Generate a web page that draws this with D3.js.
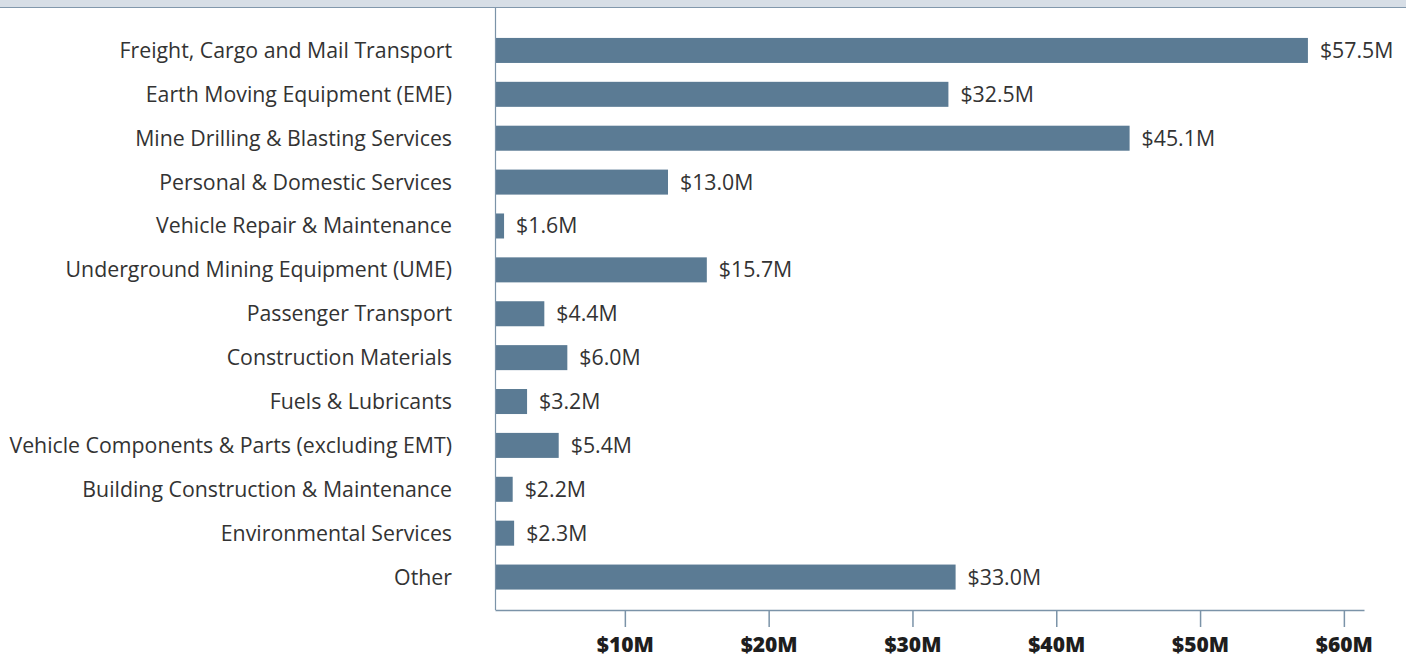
<!DOCTYPE html>
<html>
<head>
<meta charset="utf-8">
<script src="https://cdn.jsdelivr.net/npm/d3@7"></script>
<style>
  body { margin: 0; background: #fff; }
  svg { display: block; font-family: 'Open Sans', sans-serif; }
</style>
</head>
<body>
<div id="chart"></div>
<script>
// categories, top to bottom
const categories = [
  'Freight, Cargo and Mail Transport',
  'Earth Moving Equipment (EME)',
  'Mine Drilling & Blasting Services',
  'Personal & Domestic Services',
  'Vehicle Repair & Maintenance',
  'Underground Mining Equipment (UME)',
  'Passenger Transport',
  'Construction Materials',
  'Fuels & Lubricants',
  'Vehicle Components & Parts (excluding EMT)',
  'Building Construction & Maintenance',
  'Environmental Services',
  'Other'
]
// spend in $M
const values = [57.5, 32.5, 45.1, 13.0, 1.6, 15.7, 4.4, 6.0, 3.2, 5.4, 2.2, 2.3, 33.0]
const tickValues = [10, 20, 30, 40, 50, 60]

const width = 1406
const height = 659
const margins = {top: 8, left: 495, right: 42, bottom: 49}

const data = categories.map((c, i) => ({cat: c, value: values[i]}))

const svg = d3.select('#chart')
  .append('svg')
    .attr('width', width)
    .attr('height', height)

// header strip
svg.append('rect')
  .attr('x', 0).attr('y', 0)
  .attr('width', width).attr('height', 7)
  .attr('fill', '#d7dee6')
svg.append('line')
  .attr('x1', 0).attr('x2', width)
  .attr('y1', 7.5).attr('y2', 7.5)
  .attr('stroke', '#8298ac')
  .attr('stroke-width', 1)

const x = d3.scaleLinear()
  .domain([0.97, 61.4])
  .range([margins.left, width - margins.right])

const y = d3.scaleBand()
  .domain(categories)
  .range([28.5, 599])
  .paddingInner(0.43)
  .paddingOuter(0.215)

const axisY = height - margins.bottom
const axisColor = '#7b93a8'

// bars
svg.append('g')
    .classed('bars', true)
  .selectAll('rect')
  .data(data)
  .enter()
  .append('rect')
    .attr('x', x.range()[0])
    .attr('y', d => y(d.cat))
    .attr('width', d => x(d.value) - x.range()[0])
    .attr('height', y.bandwidth())
    .attr('fill', '#5b7b94')

// value labels
svg.append('g')
    .classed('values', true)
  .selectAll('text')
  .data(data)
  .enter()
  .append('text')
    .attr('x', d => x(d.value) + 12)
    .attr('y', d => y(d.cat) + y.bandwidth() / 2)
    .attr('dy', '0.35em')
    .attr('font-size', 21.3)
    .attr('fill', '#333')
    .text(d => '$' + d.value.toFixed(1) + 'M')

// category labels
svg.append('g')
    .classed('cats', true)
  .selectAll('text')
  .data(data)
  .enter()
  .append('text')
    .attr('x', 452)
    .attr('y', d => y(d.cat) + y.bandwidth() / 2)
    .attr('dy', '0.35em')
    .attr('text-anchor', 'end')
    .attr('font-size', 21.3)
    .attr('fill', '#333')
    .text(d => d.cat)

// left axis line
svg.append('line')
  .attr('x1', margins.left + 0.5).attr('x2', margins.left + 0.5)
  .attr('y1', margins.top).attr('y2', axisY)
  .attr('stroke', axisColor)
  .attr('stroke-width', 1.2)

// x axis
const xAxisG = svg.append('g')
  .classed('x-axis', true)
  .attr('transform', 'translate(0,' + axisY + ')')
  .call(d3.axisBottom(x)
    .tickValues(tickValues)
    .tickSize(17)
    .tickSizeOuter(0)
    .tickPadding(10)
    .tickFormat(d => '$' + d + 'M'))

xAxisG.select('.domain')
  .attr('stroke', axisColor)
  .attr('stroke-width', 1.5)
xAxisG.selectAll('.tick line')
  .attr('stroke', axisColor)
  .attr('stroke-width', 1.5)
xAxisG.selectAll('.tick text')
  .attr('font-family', "'Open Sans', sans-serif")
  .attr('font-size', 21)
  .attr('font-weight', 800)
  .attr('fill', '#1e1e1e')
</script>
</body>
</html>
